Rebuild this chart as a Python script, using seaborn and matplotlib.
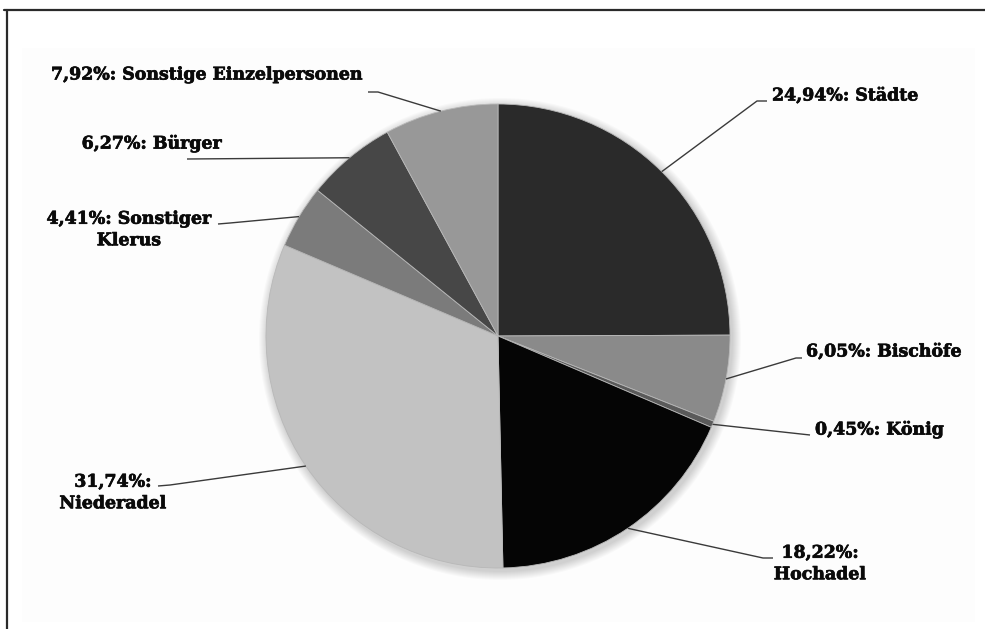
import matplotlib
matplotlib.use("Agg")
import matplotlib.pyplot as plt
import matplotlib.patheffects as pe
import seaborn as sns
import numpy as np
from matplotlib.patches import Circle, Rectangle
from matplotlib.lines import Line2D

# ---- data ----
categories = ["Städte", "Bischöfe", "König", "Hochadel", "Niederadel",
              "Sonstiger Klerus", "Bürger", "Sonstige Einzelpersonen"]
shares = [24.94, 6.05, 0.45, 18.22, 31.74, 4.41, 6.27, 7.92]
label_texts = ["24,94%: Städte", "6,05%: Bischöfe", "0,45%: König",
               "18,22%:\nHochadel", "31,74%:\nNiederadel",
               "4,41%: Sonstiger\nKlerus", "6,27%: Bürger",
               "7,92%: Sonstige Einzelpersonen"]
colors = ["#2a2a2a", "#8a8a8a", "#5a5a5a", "#050505", "#c2c2c2",
          "#7b7b7b", "#474747", "#989898"]

# ---- layout (pixel coordinates of the 985x629 canvas) ----
W, H = 985, 629
CX, CY, R = 498, 336, 232
# text anchor (x, y, ha)
text_pos = [(772, 96, "left"), (806, 352, "left"), (815, 430, "left"),
            (820, 564, "center"), (113, 493, "center"),
            (129, 230, "center"), (222, 144, "right"), (363, 75, "right")]
# leader elbow points (after the pie edge)
leader_pts = [[(757, 101), (767, 101)],
              [(796, 358), (802, 358)],
              [(810, 435)],
              [(763, 558), (773, 558)],
              [(170, 485), (158, 486)],
              [(230, 223), (218, 224)],
              [(187, 159)],
              [(378, 92), (368, 92)]]

sns.set_theme(style="white")
plt.rcParams["font.family"] = ["DejaVu Serif", "DejaVu Sans"]

fig = plt.figure(figsize=(W / 100, H / 100), dpi=100)
fig.patch.set_facecolor("white")
ax = fig.add_axes([0, 0, 1, 1])
ax.set_xlim(0, W)
ax.set_ylim(H, 0)
ax.set_aspect("equal")
ax.axis("off")

# faint inner panel
ax.add_patch(Rectangle((22, 48), 953, 574, fc="#fdfdfd", ec="none", zorder=0))

# soft shadow halo
for k in range(9, 0, -1):
    ax.add_patch(Circle((CX + 2, CY + 3), R + k, fc="black", ec="none",
                        alpha=0.02, zorder=1))

wedges, _ = ax.pie(shares, colors=colors, startangle=270, counterclock=True,
                   center=(CX, CY), radius=R, frame=True,
                   wedgeprops=dict(edgecolor="#b8b8b8", linewidth=0.6))
for w in wedges:
    w.set_zorder(2)
ax.set_xlim(0, W)
ax.set_ylim(H, 0)
ax.axis("off")

for w, txt, (tx, ty, ha), pts in zip(wedges, label_texts, text_pos, leader_pts):
    mid = np.deg2rad((w.theta1 + w.theta2) / 2)
    ex = w.center[0] + w.r * np.cos(mid)
    ey = w.center[1] + w.r * np.sin(mid)
    xs = [ex] + [p[0] for p in pts]
    ys = [ey] + [p[1] for p in pts]
    ax.plot(xs, ys, color="#3a3a3a", lw=1.0, zorder=3, solid_capstyle="butt")
    ax.text(tx, ty, txt, ha=ha, va="center", multialignment="center",
            fontsize=12.5, fontweight="bold", color="#0a0a0a",
            linespacing=1.35, zorder=4,
            path_effects=[pe.withStroke(linewidth=0.5, foreground="#0a0a0a")])

# frame lines (top and left)
fig.add_artist(Line2D([4 / W, 1], [1 - 9.5 / H, 1 - 9.5 / H],
                      color="#2a2a2a", lw=1.6, transform=fig.transFigure))
fig.add_artist(Line2D([7 / W, 7 / W], [0, 1 - 9.5 / H],
                      color="#2a2a2a", lw=1.6, transform=fig.transFigure))

fig.savefig("out.png", dpi=100, facecolor="white")
